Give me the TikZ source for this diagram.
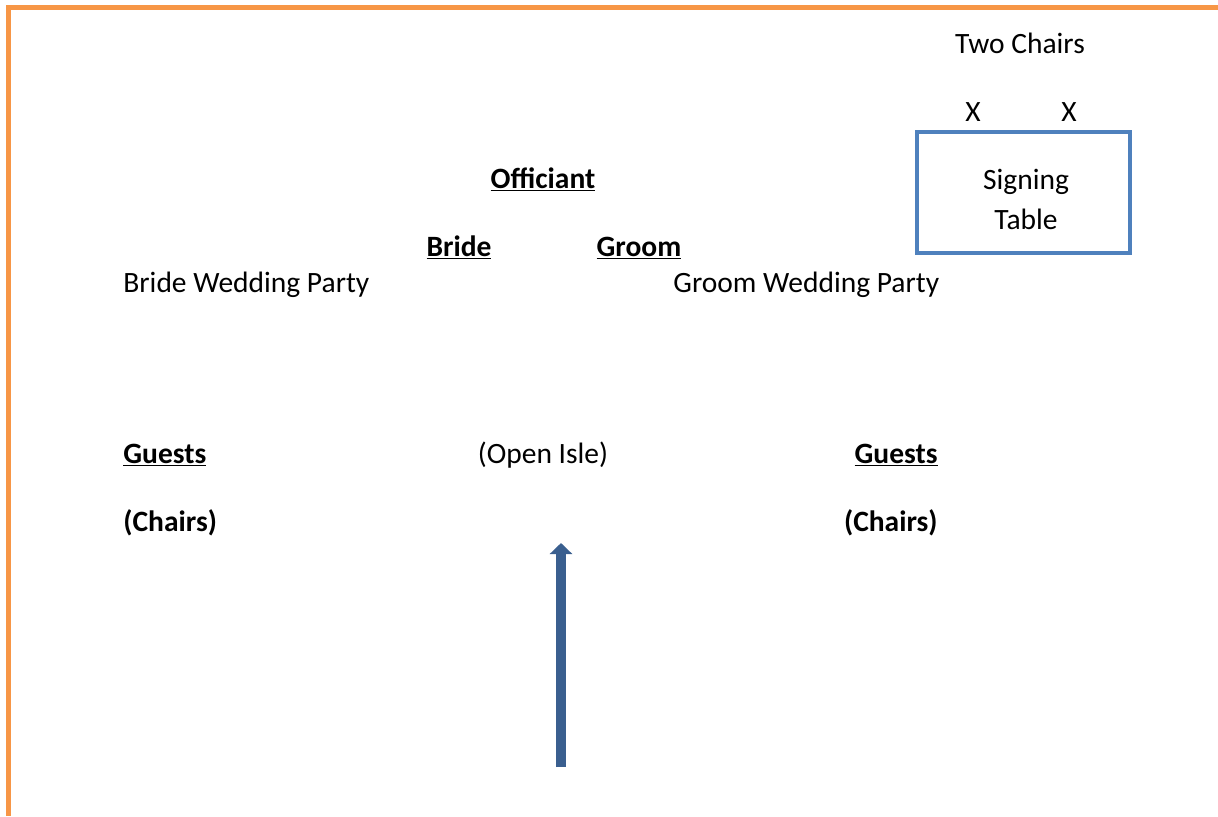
\documentclass[tikz,border=0pt]{standalone}
\usepackage{fontspec}
\setmainfont{Carlito}
\usetikzlibrary{arrows.meta}
\definecolor{borderorange}{HTML}{F79646}
\definecolor{tableblue}{HTML}{4F81BD}
\definecolor{arrowblue}{HTML}{3A5F8F}
\newcommand\ulin[1]{\setbox0\hbox{#1}\rlap{\rule[-1.7pt]{\wd0}{0.9pt}}\box0}
\begin{document}
\begin{tikzpicture}[x=0.5pt,y=-0.5pt,
  txt/.style={inner sep=0pt,font=\fontsize{14.75}{17.7}\selectfont},
  bold/.style={txt,font=\fontsize{14.75}{17.7}\selectfont\bfseries}]
\useasboundingbox (0,0) rectangle (1218,816);
% page border
\coordinate (tl) at (8,7.5);
\coordinate (tr) at (1218,7.5);
\coordinate (bl) at (8,816);
\draw[borderorange,line width=2.5pt] (tr) -- (tl) -- (bl);
% signing table
\node[draw=tableblue,line width=2pt,minimum width=106.5pt,minimum height=60.5pt,inner sep=0pt] (table) at (1023.5,192.5) {};
\node[txt,anchor=base] (signing) at (1026,189) {Signing};
\node[txt,anchor=base] (tabletxt) at (1026,229) {Table};
\node[txt,anchor=base] (twochairs) at (1020,53) {Two Chairs};
\node[txt,anchor=base] (x1) at (973,121) {X};
\node[txt,anchor=base] (x2) at (1069,121) {X};
% ceremony
\node[bold,anchor=base] (officiant) at (543,188) {\ulin{Officiant}};
\node[bold,anchor=base] (bride) at (459,256) {\ulin{Bride}};
\node[bold,anchor=base] (groom) at (639,256) {\ulin{Groom}};
\node[txt,anchor=base west] (bparty) at (123,292) {Bride Wedding Party};
\node[txt,anchor=base west] (gparty) at (673,292) {Groom Wedding Party};
% guests
\node[bold,anchor=base west] (guestsL) at (123,463) {\ulin{Guests}};
\node[txt,anchor=base] (isle) at (543,463) {(Open Isle)};
\node[bold,anchor=base east] (guestsR) at (938,463) {\ulin{Guests}};
\node[bold,anchor=base west] (chairsL) at (123,531) {(Chairs)};
\node[bold,anchor=base east] (chairsR) at (938,531) {(Chairs)};
% aisle arrow
\coordinate (astart) at (561,767);
\coordinate (aend) at (561,543);
\draw[arrowblue,line width=5pt,-{Triangle[width=11pt,length=5.5pt]}] (astart) -- (aend);
\end{tikzpicture}
\end{document}
